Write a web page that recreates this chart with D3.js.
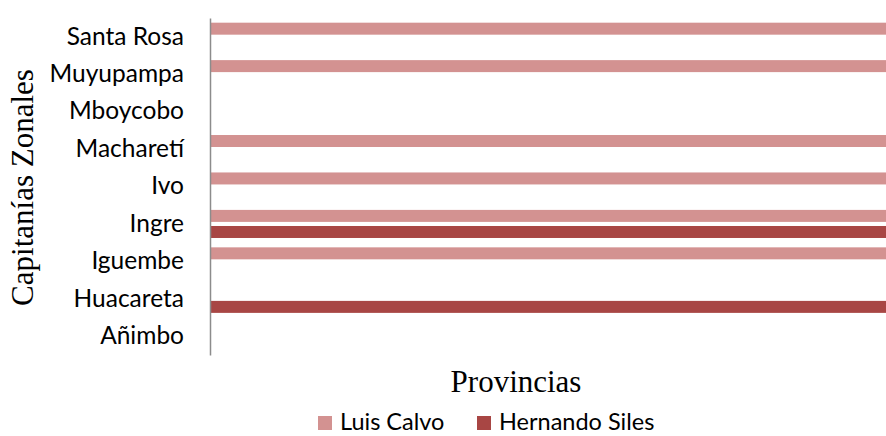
<!DOCTYPE html>
<html>
<head>
<meta charset="utf-8">
<script src="https://cdn.jsdelivr.net/npm/d3@7"></script>
<style>
  body { margin: 0; background: #fff; }
</style>
</head>
<body>
<script>
const width = 886;
const height = 436;
const margin = { top: 18, right: 0, bottom: 81, left: 211 };

// categories, bottom to top as in the picture
const zonas = ["Añimbo", "Huacareta", "Iguembe", "Ingre", "Ivo", "Macharetí", "Mboycobo", "Muyupampa", "Santa Rosa"];
const series = ["Luis Calvo", "Hernando Siles"];
const luisCalvo = [0, 0, 1, 1, 1, 1, 0, 1, 1];
const hernandoSiles = [0, 1, 0, 1, 0, 0, 0, 0, 0];
const colors = ["#d39291", "#a84644"];

const values = [luisCalvo, hernandoSiles];

const svg = d3.select("body").append("svg")
  .attr("width", width)
  .attr("height", height);

const y = d3.scaleBand()
  .domain(zonas.slice().reverse())
  .range([margin.top, height - margin.bottom])
  .paddingInner(0.25)
  .paddingOuter(0.125);

const ySub = d3.scaleBand()
  .domain(series)
  .range([0, y.bandwidth()])
  .paddingInner(0.255);

const x = d3.scaleLinear()
  .domain([0, 1])
  .range([margin.left, width - margin.right]);

// bars
series.forEach((s, si) => {
  svg.append("g")
    .selectAll("rect")
    .data(zonas.map((z, i) => ({ zona: z, value: values[si][i] })).filter(d => d.value > 0))
    .join("rect")
    .attr("x", x(0))
    .attr("y", d => y(d.zona) + ySub(s))
    .attr("width", d => x(d.value) - x(0))
    .attr("height", ySub.bandwidth())
    .attr("fill", colors[si]);
});

// category axis
const yAxis = d3.axisLeft(y).tickSize(0).tickPadding(26);
const gy = svg.append("g")
  .attr("transform", `translate(${margin.left - 1},0)`)
  .call(yAxis);
gy.select(".domain").attr("stroke", "#8c8c8c").attr("stroke-width", 1.5);
gy.selectAll(".tick text")
  .attr("font-family", "Lato, 'Noto Sans', sans-serif")
  .attr("font-size", 24.5)
  .attr("fill", "#000");

// axis titles
svg.append("text")
  .attr("transform", `translate(33, ${(margin.top + height - margin.bottom) / 2 + 1}) rotate(-90)`)
  .attr("text-anchor", "middle")
  .attr("font-family", "'Liberation Serif', 'Times New Roman', serif")
  .attr("font-size", 31)
  .text("Capitanías Zonales");

svg.append("text")
  .attr("x", 516)
  .attr("y", 392)
  .attr("text-anchor", "middle")
  .attr("font-family", "'Liberation Serif', 'Times New Roman', serif")
  .attr("font-size", 31)
  .text("Provincias");

// legend
const legendX = [318, 477];
const legend = svg.append("g");
series.forEach((s, i) => {
  legend.append("rect")
    .attr("x", legendX[i])
    .attr("y", 416)
    .attr("width", 14)
    .attr("height", 14)
    .attr("fill", colors[i]);
  legend.append("text")
    .attr("x", legendX[i] + 22)
    .attr("y", 430)
    .attr("font-family", "Lato, 'Noto Sans', sans-serif")
    .attr("font-size", 23.5)
    .text(s);
});
</script>
</body>
</html>
